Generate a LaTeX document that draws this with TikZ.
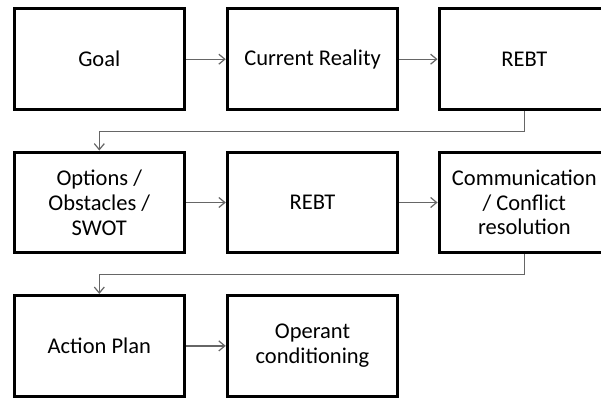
\documentclass[tikz,border=0pt]{standalone}
\usepackage{fontspec}
\setmainfont{Carlito}
\usetikzlibrary{arrows.meta}

\definecolor{linkgray}{HTML}{666666}

\tikzset{
	stage/.style={draw=black,line width=3.2pt,fill=white,minimum width=170.3pt,minimum height=100.7pt,
		align=center,font=\fontsize{22.5}{24.8}\selectfont,inner sep=2pt},
	link/.style={draw=linkgray,line width=1.2pt,-{Straight Barb[length=6pt,width=10pt]}}
}

\newcommand{\stagebox}[3]
{
	\node[stage] at (#1) (#2) {#3}
}

\begin{document}
\begin{tikzpicture}[x=1pt,y=-1pt]
	\useasboundingbox (0,0) rectangle (601,398);
	\clip (0,0) rectangle (601,398);
	
	%%% Row 1
	\stagebox{99.3,59.2}{goal}{Goal};
	\stagebox{312.5,59.2}{reality}{Current Reality};
	\stagebox{524.3,59.2}{rebtA}{REBT};
	\draw[link] (goal) -- (reality);
	\draw[link] (reality) -- (rebtA);
	
	%%% Row 2
	\stagebox{99.3,202.5}{options}{Options /\\Obstacles /\\SWOT};
	\stagebox{312.5,202.5}{rebtB}{REBT};
	\stagebox{524.3,202.5}{comm}{Communication\\/ Conflict\\resolution};
	\draw[link] (options) -- (rebtB);
	\draw[link] (rebtB) -- (comm);
	
	%%% Row 3
	\stagebox{99.3,345.9}{plan}{Action Plan};
	\stagebox{312.5,345.9}{operant}{Operant\\conditioning};
	\draw[link] (plan) -- (operant);
	
	%%%%%%%%% ROW TO ROW LINKS
	\draw[link] (rebtA.south) -- ++(0,20) -| (options.north);
	\draw[link] (comm.south) -- ++(0,20) -| (plan.north);
\end{tikzpicture}
\end{document}
